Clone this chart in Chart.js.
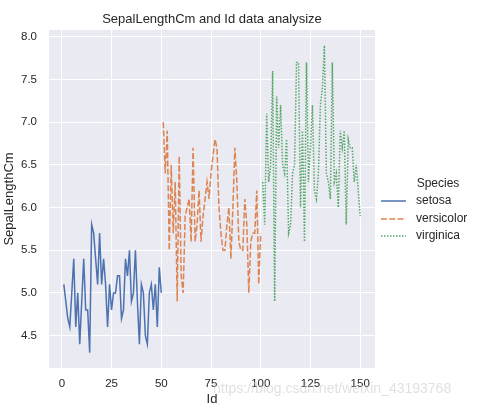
<!DOCTYPE html>
<html><head><meta charset="utf-8">
<script src="https://cdn.jsdelivr.net/npm/chart.js@4"></script>
<style>html,body{margin:0;padding:0;background:#fff}#wrap{width:493px;height:409px}</style>
</head><body><div id="wrap"><canvas id="c" width="493" height="409"></canvas></div>
<script>
const speciesNames = ["setosa", "versicolor", "virginica"];
const setosa = [5.1,4.9,4.7,4.6,5.0,5.4,4.6,5.0,4.4,4.9,5.4,4.8,4.8,4.3,5.8,5.7,5.4,5.1,5.7,5.1,5.4,5.1,4.6,5.1,4.8,5.0,5.0,5.2,5.2,4.7,4.8,5.4,5.2,5.5,4.9,5.0,5.5,4.9,4.4,5.1,5.0,4.5,4.4,5.0,5.1,4.8,5.1,4.6,5.3,5.0];
const versicolor = [7.0,6.4,6.9,5.5,6.5,5.7,6.3,4.9,6.6,5.2,5.0,5.9,6.0,6.1,5.6,6.7,5.6,5.8,6.2,5.6,5.9,6.1,6.3,6.1,6.4,6.6,6.8,6.7,6.0,5.7,5.5,5.5,5.8,6.0,5.4,6.0,6.7,6.3,5.6,5.5,5.5,6.1,5.8,5.0,5.6,5.7,5.7,6.2,5.1,5.7];
const virginica = [6.3,5.8,7.1,6.3,6.5,7.6,4.9,7.3,6.7,7.2,6.5,6.4,6.8,5.7,5.8,6.4,6.5,7.7,7.7,6.0,6.9,5.6,7.7,6.3,6.7,7.2,6.2,6.1,6.4,7.2,7.4,7.9,6.4,6.3,6.1,7.7,6.3,6.4,6.0,6.9,6.7,6.9,5.8,6.8,6.7,6.7,6.3,6.5,6.2,5.9];
const firstIds = [1, 51, 101];
const xTicks = [0, 25, 50, 75, 100, 125, 150];
const yTicks = [4.5, 5.0, 5.5, 6.0, 6.5, 7.0, 7.5, 8.0];

const colors = ["#4C72B0", "#DD8452", "#55A868"];
const dashes = [[], [6, 2.25], [1.5, 1.5]];
const FONT = "'Liberation Sans', Arial, sans-serif";
const TXT = "#262626";

function toPoints(vals, start) { return vals.map((v, i) => ({x: start + i, y: v})); }
const seriesVals = [setosa, versicolor, virginica];

const datasets = seriesVals.map((vals, k) => ({
  label: speciesNames[k],
  data: toPoints(vals, firstIds[k]),
  borderColor: colors[k],
  borderWidth: 1.5,
  borderDash: dashes[k],
  pointRadius: 0,
  tension: 0,
  fill: false
}));

const deco = {
  id: 'deco',
  beforeDraw(chart) {
    const {ctx, chartArea: a} = chart;
    ctx.save();
    ctx.fillStyle = "#EAEAF2";
    ctx.fillRect(a.left, a.top, a.right - a.left, a.bottom - a.top);
    ctx.restore();
  },
  afterDraw(chart) {
    const {ctx, chartArea: a} = chart;
    ctx.save();
    ctx.fillStyle = TXT;
    ctx.textAlign = "center";
    ctx.textBaseline = "middle";
    ctx.font = "13px " + FONT;
    ctx.fillText("SepalLengthCm and Id data analysize", (a.left + a.right) / 2, 19.5);
    ctx.fillText("Id", (a.left + a.right) / 2, 399);
    ctx.save();
    ctx.translate(9, (a.top + a.bottom) / 2);
    ctx.rotate(-Math.PI / 2);
    ctx.fillText("SepalLengthCm", 0, 0);
    ctx.restore();
    // legend
    ctx.font = "12px " + FONT;
    ctx.fillText("Species", 438, 184);
    ctx.textAlign = "left";
    const rows = [201, 219, 236];
    chart.data.datasets.forEach((d, k) => {
      ctx.strokeStyle = d.borderColor;
      ctx.lineWidth = 1.5;
      ctx.setLineDash(d.borderDash);
      ctx.beginPath();
      ctx.moveTo(381, rows[k]);
      ctx.lineTo(406, rows[k]);
      ctx.stroke();
      ctx.fillStyle = TXT;
      ctx.fillText(d.label, 416, rows[k]);
    });
    ctx.setLineDash([]);
    // watermark
    ctx.font = "14px " + FONT;
    ctx.fillStyle = "rgba(200,200,200,0.55)";
    ctx.textAlign = "left";
    ctx.fillText("https://blog.csdn.net/weixin_43193768", 213, 389);
    ctx.restore();
  }
};

new Chart(document.getElementById('c'), {
  type: 'line',
  data: {datasets},
  options: {
    responsive: false,
    animation: false,
    devicePixelRatio: 1,
    layout: {padding: {left: 0, right: 118, top: 30, bottom: 0}},
    plugins: {legend: {display: false}, tooltip: {enabled: false}, title: {display: false}},
    scales: {
      x: {
        type: 'linear',
        min: -6.45, max: 157.45,
        border: {display: false},
        grid: {color: "#FFFFFF", lineWidth: 1, drawTicks: false},
        afterBuildTicks: s => { s.ticks = xTicks.map(v => ({value: v})); },
        afterFit: s => { s.height = 41; },
        ticks: {color: TXT, font: {family: FONT, size: 11.5}, padding: 9, maxRotation: 0,
                callback: v => String(v)}
      },
      y: {
        type: 'linear',
        min: 4.12, max: 8.08,
        border: {display: false},
        grid: {color: "#FFFFFF", lineWidth: 1, drawTicks: false},
        afterBuildTicks: s => { s.ticks = yTicks.map(v => ({value: v})); },
        afterFit: s => { s.width = 49; },
        ticks: {color: TXT, font: {family: FONT, size: 11.5}, padding: 12,
                callback: v => Number(v).toFixed(1)}
      }
    }
  },
  plugins: [deco]
});
</script></body></html>
